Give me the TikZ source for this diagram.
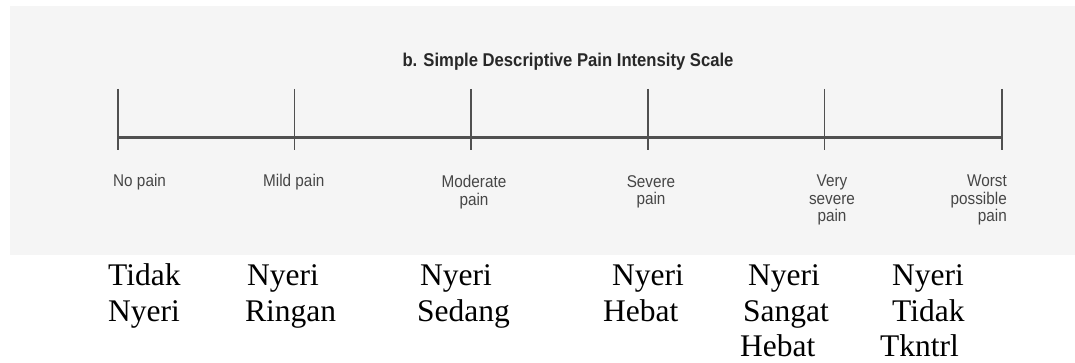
\documentclass[tikz,border=0pt]{standalone}
\usepackage{fontspec}
\setmainfont{Liberation Serif}
\newfontfamily\scanfont[FakeStretch=0.9]{Liberation Sans}
\definecolor{scanbg}{RGB}{245,245,245}
\definecolor{scanink}{RGB}{80,80,80}
\definecolor{scantitle}{RGB}{40,40,40}
\definecolor{scanlabel}{RGB}{70,70,70}
\tikzset{
  scaleline/.style={draw=scanink, line width=2.2pt},
  tickline/.style={draw=scanink, line width=1.6pt},
  scanlab/.style={inner sep=0pt, text=scanlabel, font=\scanfont\fontsize{17}{17.5}\selectfont},
  titlelab/.style={inner sep=0pt, text=scantitle, font=\scanfont\bfseries\fontsize{18.5}{20}\selectfont},
  idword/.style={inner sep=0pt, anchor=base west, font=\fontsize{31.5}{36.5}\selectfont}
}
\begin{document}
\begin{tikzpicture}[x=1pt,y=-1pt]
\useasboundingbox (0,0) rectangle (1075,363);
\fill[scanbg] (10,6) rectangle (1075,255);
% title
\node[titlelab, anchor=base] (title) at (568,67) {b. Simple Descriptive Pain Intensity Scale};
% ticks
\foreach \i/\x in {1/118,2/294.5,3/471,4/648,5/824.5,6/1002}{
  \coordinate (t\i top) at (\x,89);
  \coordinate (t\i bot) at (\x,150);
  \draw[tickline] (t\i top) -- (t\i bot);
}
\coordinate (axl) at (118,137.5);
\coordinate (axr) at (1002,137.5);
\draw[scaleline] (axl) -- (axr);
% English labels
\node[scanlab, anchor=base west] (l1) at (113,187) {No pain};
\node[scanlab, anchor=base west] (l2) at (263,187) {Mild pain};
\node[scanlab, anchor=north, align=center] (l3) at (474,175) {Moderate\\pain};
\node[scanlab, anchor=north, align=center] (l4) at (651,175) {Severe\\pain};
\node[scanlab, anchor=north, align=center] (l5) at (832,175) {Very\\severe\\pain};
\node[scanlab, anchor=north east, align=right] (l6) at (1007,175) {Worst\\possible\\pain};
% Indonesian labels
\node[idword] (a1) at (108,285) {Tidak};
\node[idword] (a2) at (108,321) {Nyeri};
\node[idword] (b1) at (247,285) {Nyeri};
\node[idword] (b2) at (245,321) {Ringan};
\node[idword] (c1) at (420,285) {Nyeri};
\node[idword] (c2) at (417,321) {Sedang};
\node[idword] (d1) at (612,285) {Nyeri};
\node[idword] (d2) at (603,321) {Hebat};
\node[idword] (e1) at (748,285) {Nyeri};
\node[idword] (e2) at (743,321) {Sangat};
\node[idword] (e3) at (740,356) {Hebat};
\node[idword] (f1) at (892,285) {Nyeri};
\node[idword] (f2) at (892,321) {Tidak};
\node[idword] (f3) at (880,356) {Tkntrl};
\end{tikzpicture}
\end{document}
